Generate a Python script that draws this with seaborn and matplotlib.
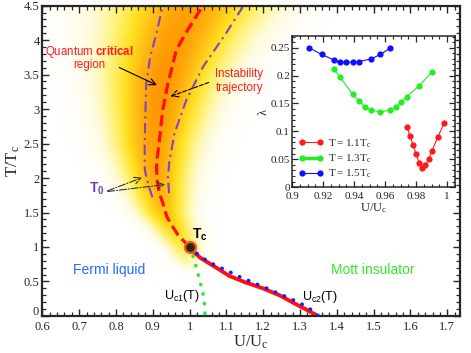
import numpy as np
import pandas as pd
import matplotlib
matplotlib.use("Agg")
import matplotlib.pyplot as plt
import seaborn as sns
from matplotlib.colors import LinearSegmentedColormap
from matplotlib.lines import Line2D
from matplotlib.ticker import MultipleLocator, FuncFormatter

# instability trajectory (red dashed)
traj_U = [1.0, 0.969, 0.951, 0.938, 0.927, 0.918, 0.912, 0.910, 0.912, 0.917, 0.927, 0.941, 0.964, 0.995, 1.03]
traj_T = [1.0, 1.17, 1.32, 1.44, 1.64, 1.78, 1.95, 2.15, 2.3, 2.5, 2.99, 3.37, 3.86, 4.15, 4.45]

# T0 boundaries (purple dash-dot)
t0_left_U = [0.899, 0.891, 0.882, 0.878, 0.878, 0.880, 0.882, 0.893, 0.910, 0.927]
t0_left_T = [1.72, 1.85, 2.02, 2.14, 2.53, 3.0, 3.37, 3.76, 4.10, 4.5]
t0_right_U = [0.944, 0.942, 0.941, 0.945, 0.959, 0.991, 1.036, 1.099, 1.144]
t0_right_T = [1.78, 1.95, 2.02, 2.24, 2.65, 3.13, 3.61, 4.10, 4.48]

# first order line (red solid)
first_U = [1.0, 1.015, 1.03, 1.054, 1.077, 1.108, 1.15, 1.199, 1.244, 1.289, 1.316, 1.348]
first_T = [1.0, 0.91, 0.84, 0.76, 0.685, 0.58, 0.49, 0.40, 0.30, 0.17, 0.095, 0.0]

# Uc2(T) (blue dotted)
uc2_U = [1.0, 1.032, 1.052, 1.077, 1.099, 1.122, 1.144, 1.192, 1.215, 1.239, 1.262, 1.286, 1.309, 1.331, 1.35]
uc2_T = [1.0, 0.85, 0.79, 0.71, 0.67, 0.60, 0.55, 0.44, 0.39, 0.33, 0.28, 0.22, 0.16, 0.087, 0.0]

# Uc1(T) (green dotted)
uc1_U = [1.0, 1.009, 1.020, 1.027, 1.033, 1.038, 1.041, 1.042]
uc1_T = [1.0, 0.87, 0.67, 0.52, 0.40, 0.28, 0.145, 0.0]

# quantum critical shading: centre, width and strength along T
blob_T = [0.6, 1.0, 1.5, 2.0, 2.5, 3.0, 3.5, 4.0, 4.5]
blob_center = [1.0, 0.985, 0.93, 0.91, 0.905, 0.915, 0.93, 0.96, 1.0]
blob_width = [0.02, 0.032, 0.045, 0.058, 0.072, 0.085, 0.098, 0.115, 0.135]
blob_amp = [0.0, 0.45, 0.72, 0.86, 0.92, 0.96, 0.97, 0.94, 0.9]

# inset: lambda vs U/Uc
u_11 = [0.974, 0.976, 0.978, 0.980, 0.982, 0.984, 0.986, 0.988, 0.990, 0.994, 0.998]
lam_11 = [0.108, 0.092, 0.075, 0.059, 0.043, 0.034, 0.039, 0.050, 0.064, 0.090, 0.115]
u_13 = [0.927, 0.931, 0.939, 0.943, 0.947, 0.951, 0.957, 0.963, 0.967, 0.970, 0.974, 0.982, 0.990]
lam_13 = [0.212, 0.197, 0.167, 0.155, 0.144, 0.138, 0.135, 0.138, 0.143, 0.152, 0.162, 0.182, 0.206]
u_15 = [0.911, 0.919, 0.927, 0.931, 0.935, 0.939, 0.943, 0.951, 0.957, 0.963]
lam_15 = [0.250, 0.238, 0.228, 0.224, 0.224, 0.224, 0.225, 0.230, 0.238, 0.249]

sns.set_theme(style="ticks")
plt.rcParams["font.family"] = ["Liberation Serif", "DejaVu Serif"]
plt.rcParams["mathtext.fontset"] = "custom"
plt.rcParams["mathtext.rm"] = "Liberation Sans"
plt.rcParams["mathtext.bf"] = "Liberation Sans:bold"

fig = plt.figure(figsize=(4.71, 3.53), dpi=100)
ax = fig.add_axes([0.090, 0.105, 0.887, 0.879])

# shading
Ug = np.linspace(0.6, 1.735, 400)
Tg = np.linspace(0, 4.5, 400)
cen = np.interp(Tg, blob_T, blob_center)
wid = np.interp(Tg, blob_T, blob_width)
amp = np.interp(Tg, blob_T, blob_amp)
Z = amp[:, None] * np.exp(-0.5 * ((Ug[None, :] - cen[:, None]) / wid[:, None]) ** 2)
cmap = LinearSegmentedColormap.from_list(
    "qc", [(0, "#ffffff"), (0.12, "#fffbdc"), (0.32, "#fff27a"), (0.55, "#ffe020"),
           (0.78, "#ffb812"), (1.0, "#ff9200")])
ax.imshow(Z, origin="lower", extent=(0.6, 1.735, 0, 4.5), aspect="auto",
          cmap=cmap, vmin=0, vmax=1, interpolation="bilinear", zorder=0)

line_kw = dict(sort=False, estimator=None, ax=ax)
purple = "#7f45c2"
dd = (0, (5, 2.2, 1, 2.2))
sns.lineplot(x=t0_left_U, y=t0_left_T, color=purple, linewidth=1.5, linestyle=dd, **line_kw)
sns.lineplot(x=t0_right_U, y=t0_right_T, color=purple, linewidth=1.5, linestyle=dd, **line_kw)
sns.lineplot(x=traj_U, y=traj_T, color="#ff1010", linewidth=2.3,
             linestyle=(0, (3.5, 1.6)), **line_kw)
sns.lineplot(x=first_U, y=first_T, color="#ff1010", linewidth=2.8, **line_kw)
sns.lineplot(x=uc1_U, y=uc1_T, color="#33e633", linewidth=2.6,
             linestyle=(0, (0.1, 2.6)), dash_capstyle="round", zorder=4, **line_kw)
sns.lineplot(x=uc2_U, y=uc2_T, color="#1a1aff", linewidth=2.6,
             linestyle=(0, (0.1, 2.6)), dash_capstyle="round", zorder=4, **line_kw)
ax.plot([1.0], [1.0], marker="o", markersize=8, markerfacecolor="#2a2a12",
        markeredgecolor="#ff5a1a", markeredgewidth=1.6, zorder=5)

ax.set_xlim(0.6, 1.735)
ax.set_ylim(0, 4.5)
ax.xaxis.set_major_locator(MultipleLocator(0.1))
ax.xaxis.set_minor_locator(MultipleLocator(0.02))
ax.yaxis.set_major_locator(MultipleLocator(0.5))
ax.yaxis.set_minor_locator(MultipleLocator(0.1))
ax.xaxis.set_major_formatter(FuncFormatter(lambda v, p: "%g" % round(v, 2)))
# the "0" of the y axis is drawn by hand just above the corner
ax.yaxis.set_major_formatter(FuncFormatter(lambda v, p: "" if abs(v) < 1e-9 else "%g" % round(v, 2)))
ax.tick_params(which="both", direction="in", top=True, right=True, labelsize=9)
ax.tick_params(axis="x", pad=4)
ax.tick_params(axis="y", pad=2)
ax.tick_params(which="major", length=5, width=1)
ax.tick_params(which="minor", length=2.8, width=0.9)
for s in ax.spines.values():
    s.set_linewidth(1.6)
ax.annotate("0", xy=(0, 0), xycoords="axes fraction", xytext=(-2.6, -1.2),
            textcoords="offset points", ha="right", va="bottom", fontsize=9)
ax.set_xlabel(r"$\mathregular{U/U_c}$", fontsize=12, labelpad=0)
ax.set_ylabel(r"$\mathregular{T/T_c}$", fontsize=12, labelpad=1)

sans = "Liberation Sans"
ax.text(0.727, 3.83, r"Quantum $\mathbf{critical}$", color="#ff1a1a", fontsize=8.3,
        family=sans, ha="center", va="center")
ax.text(0.727, 3.64, "region", color="#ff1a1a", fontsize=8.3, family=sans,
        ha="center", va="center")
ax.annotate("", xy=(0.918, 3.33), xytext=(0.802, 3.62),
            arrowprops=dict(arrowstyle="->", color="black", lw=0.8))
ax.text(1.07, 3.41, "Instability\ntrajectory", color="#ff1a1a", fontsize=8.3,
        family=sans, ha="left", va="center", linespacing=1.25)
ax.annotate("", xy=(0.941, 3.17), xytext=(1.059, 3.40),
            arrowprops=dict(arrowstyle="->", color="black", lw=0.8, linestyle="--"))
ax.text(0.747, 1.85, r"$\mathregular{T_0}$", color="#7a3db5", fontsize=10,
        family=sans, ha="center", va="center", fontweight="bold")
for tgt in [(0.878, 2.02), (0.941, 1.91)]:
    ax.annotate("", xy=tgt, xytext=(0.77, 1.80),
                arrowprops=dict(arrowstyle="->", color="#333333", lw=0.8, linestyle="-."))
ax.text(1.029, 1.17, r"$\mathregular{T_c}$", color="black", fontsize=10, family=sans,
        ha="center", va="center", fontweight="bold")
ax.text(0.78, 0.667, "Fermi liquid", color="#1f6fff", fontsize=10, family=sans,
        ha="center", va="center")
ax.text(1.498, 0.667, "Mott insulator", color="#33e633", fontsize=10, family=sans,
        ha="center", va="center")
ax.text(0.980, 0.29, r"$\mathregular{U_{c1}(T)}$", color="black", fontsize=9,
        family=sans, ha="center", va="center")
ax.text(1.354, 0.28, r"$\mathregular{U_{c2}(T)}$", color="black", fontsize=9,
        family=sans, ha="center", va="center")

# inset
ins = fig.add_axes([0.620, 0.470, 0.346, 0.428])
lam_df = pd.concat([
    pd.DataFrame({"U": u_11, "lam": lam_11, "T": "1.1"}),
    pd.DataFrame({"U": u_13, "lam": lam_13, "T": "1.3"}),
    pd.DataFrame({"U": u_15, "lam": lam_15, "T": "1.5"}),
])
pal = {"1.1": "#ff1a1a", "1.3": "#22ee22", "1.5": "#1010ff"}
sns.lineplot(data=lam_df, x="U", y="lam", hue="T", palette=pal, sort=False,
             estimator=None, marker="o", markersize=4.5, markeredgewidth=0,
             linewidth=0.8, ax=ins, legend=False)
ins.set_xlim(0.9, 1.005)
ins.set_ylim(0, 0.271)
ins.xaxis.set_major_locator(MultipleLocator(0.02))
ins.xaxis.set_minor_locator(MultipleLocator(0.005))
ins.yaxis.set_major_locator(MultipleLocator(0.05))
ins.yaxis.set_minor_locator(MultipleLocator(0.01))
ins.xaxis.set_major_formatter(FuncFormatter(lambda v, p: "%g" % round(v, 3)))
ins.yaxis.set_major_formatter(FuncFormatter(lambda v, p: "%g" % round(v, 3)))
ins.tick_params(which="both", direction="in", top=True, right=True, labelsize=8)
ins.tick_params(axis="x", pad=3.5)
ins.tick_params(axis="y", pad=1.5)
ins.tick_params(which="major", length=4, width=0.9)
ins.tick_params(which="minor", length=2.2, width=0.8)
for s in ins.spines.values():
    s.set_linewidth(1.1)
ins.set_xlabel(r"$\mathregular{U/U_c}$", fontsize=9, labelpad=0)
ins.set_ylabel("λ", fontsize=9, labelpad=1)
handles = [Line2D([], [], color=pal[k], marker="o", markersize=4.5, markeredgewidth=0,
                  linewidth=lw) for k, lw in [("1.1", 0.8), ("1.3", 2.5), ("1.5", 0.8)]]
labels = [r"$\mathregular{T=1.1T_c}$", r"$\mathregular{T=1.3T_c}$", r"$\mathregular{T=1.5T_c}$"]
ins.legend(handles, labels, loc="lower left", frameon=False, fontsize=8, numpoints=2,
           handlelength=2.2, handletextpad=0.4, labelspacing=0.25, borderaxespad=0.2)

fig.savefig("out.png", dpi=100)
